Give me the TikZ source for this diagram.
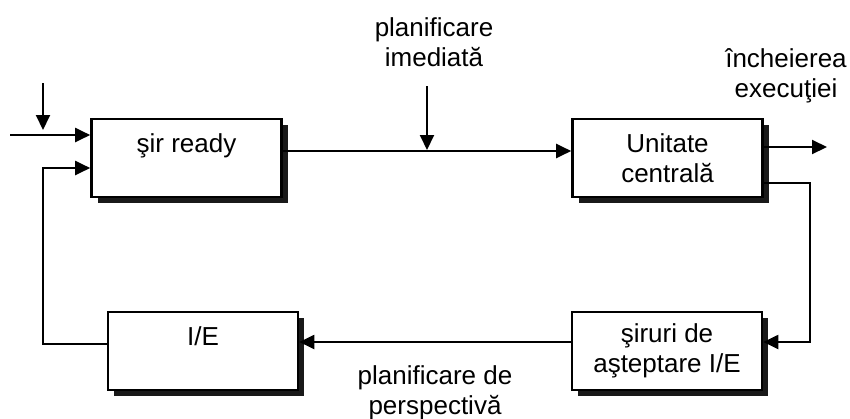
\documentclass[tikz,border=0pt]{standalone}
\usepackage{fontspec}
\setmainfont{Liberation Sans}
\usetikzlibrary{arrows.meta,shadows}

\begin{document}
\begin{tikzpicture}[x=0.5pt,y=-0.5pt,
        font=\fontsize{13}{15}\selectfont,
        box/.style={draw,line width=1.3pt,fill=white,align=center,
            minimum width=95pt,minimum height=39pt,
            drop shadow={shadow xshift=3pt,shadow yshift=-3pt,fill=black!90,opacity=1}},
        arr/.style={line width=1pt,-{Triangle[length=7.5pt,width=7pt]}}]
        \useasboundingbox (0,0) rectangle (850,418);

        \node[box] (ready) at (186.5,158) {şir ready\\\mbox{}};
        \node[box] (unit) at (667.5,158) {Unitate\\centrală};
        \node[box] (ie) at (203,351) {I/E\\\mbox{}};
        \node[box] (wait) at (667,351) {şiruri de\\aşteptare I/E};

        \node[align=center] (imed) at (434,42) {planificare\\imediată};
        \node[align=center] (stop) at (786,76) {încheierea\\execuţiei};
        \node[align=center] (persp) at (435,393) {planificare de\\perspectivă};

        \coordinate (inl) at (10,135);
        \coordinate (intop) at (43,83);
        \coordinate (inbot) at (43,130);
        \coordinate (imtop) at (427,86);
        \coordinate (imbot) at (427,150);
        \coordinate (outr) at (827,147);
        \coordinate (rt) at (810,183);
        \coordinate (lf) at (43,344);

        \draw[arr] (inl) -- (inl -| ready.west);
        \draw[arr] (intop) -- (inbot);
        \draw[arr] ([yshift=3.5pt]ready.east) -- ([yshift=3.5pt]unit.west);
        \draw[arr] (imtop) -- (imbot);
        \draw[arr] ([yshift=5.5pt]unit.east) -- (outr);
        \draw[arr] ([yshift=-12.5pt]unit.east) -- (rt) |- ([yshift=4.5pt]wait.east);
        \draw[arr] ([yshift=4.5pt]wait.west) -- ([yshift=4.5pt]ie.east);
        \draw[arr] ([yshift=3.5pt]ie.west) -- (lf) |- ([yshift=-5pt]ready.west);
    \end{tikzpicture}
\end{document}
